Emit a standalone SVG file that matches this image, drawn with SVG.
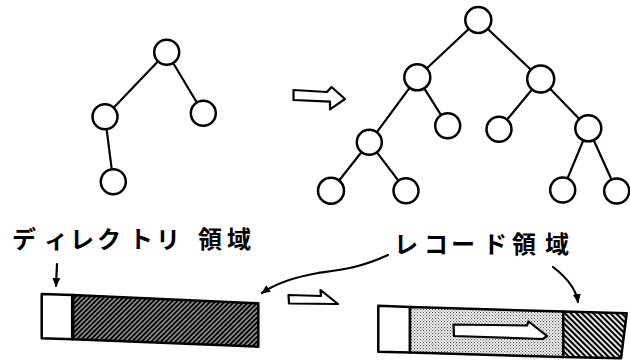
<svg xmlns="http://www.w3.org/2000/svg" width="630" height="363" viewBox="0 0 630 363">
<style>
.n{fill:#fff;stroke:#000;stroke-width:2.5}
.e{stroke:#000;stroke-width:2.2;fill:none;stroke-linecap:round}
.ha{fill:#fff;stroke:#000;stroke-width:2.2;stroke-linejoin:round}
.bar{stroke:#000;stroke-width:2.5;stroke-linejoin:round}
.t{font-family:"Noto Sans CJK JP","Noto Sans",sans-serif;font-size:24px;font-weight:700;fill:#000}
.pt{stroke:#000;stroke-width:2.2;fill:none;stroke-linecap:round}
</style>
<defs>
<pattern id="hatchL" patternUnits="userSpaceOnUse" width="3.4" height="3.4" patternTransform="rotate(45)">
<rect width="3.4" height="3.4" fill="#fff"/>
<line x1="1.7" y1="0" x2="1.7" y2="3.4" stroke="#000" stroke-width="2.5"/>
</pattern>
<pattern id="hatchR" patternUnits="userSpaceOnUse" width="4" height="4" patternTransform="rotate(-45)">
<rect width="4" height="4" fill="#fff"/>
<line x1="2" y1="0" x2="2" y2="4" stroke="#000" stroke-width="2.2"/>
</pattern>
<pattern id="dots" patternUnits="userSpaceOnUse" width="3" height="3">
<rect width="3" height="3" fill="#fff"/>
<rect x="0" y="0" width="1.2" height="1.2" fill="#555"/>
<rect x="1.5" y="1.5" width="1.2" height="1.2" fill="#777"/>
</pattern>
<marker id="ah" markerWidth="10" markerHeight="10" refX="8" refY="5" orient="auto" markerUnits="userSpaceOnUse">
<path d="M0,1 L9,5 L0,9 Z" fill="#000"/>
</marker>
</defs>
<rect width="630" height="363" fill="#fff"/>

<g id="connectors">
<line class="e" x1="166.7" y1="52.3" x2="105" y2="116.7"/>
<line class="e" x1="166.7" y1="52.3" x2="203.3" y2="113.3"/>
<line class="e" x1="105" y1="116.7" x2="113.3" y2="181.7"/>
<line class="e" x1="478.3" y1="20" x2="417.3" y2="77.3"/>
<line class="e" x1="478.3" y1="20" x2="540.7" y2="79"/>
<line class="e" x1="417.3" y1="77.3" x2="369.3" y2="142.3"/>
<line class="e" x1="417.3" y1="77.3" x2="447.7" y2="125.7"/>
<line class="e" x1="540.7" y1="79" x2="499" y2="129.3"/>
<line class="e" x1="540.7" y1="79" x2="588.3" y2="128.3"/>
<line class="e" x1="369.3" y1="142.3" x2="331" y2="190.7"/>
<line class="e" x1="369.3" y1="142.3" x2="406" y2="190.7"/>
<line class="e" x1="588.3" y1="128.3" x2="562.7" y2="190"/>
<line class="e" x1="588.3" y1="128.3" x2="616.7" y2="191"/>
<path class="pt" d="M57,264 L56,286" marker-end="url(#ah)"/>
<path class="pt" d="M388,255 C360,268 340,270 318,273 C295,277 275,284 262,293" marker-end="url(#ah)"/>
<path class="pt" d="M553,267 C566,277 576,288 578,302" marker-end="url(#ah)"/>
</g>

<g id="tree-left">
<circle class="n" cx="166.7" cy="52.3" r="12.5"/>
<circle class="n" cx="105" cy="116.7" r="12.5"/>
<circle class="n" cx="203.3" cy="113.3" r="12.5"/>
<circle class="n" cx="113.3" cy="181.7" r="12.5"/>
</g>

<g id="tree-right">
<circle class="n" cx="478.3" cy="20" r="13"/>
<circle class="n" cx="417.3" cy="77.3" r="13"/>
<circle class="n" cx="540.7" cy="79" r="13.5"/>
<circle class="n" cx="369.3" cy="142.3" r="12.5"/>
<circle class="n" cx="447.7" cy="125.7" r="12.5"/>
<circle class="n" cx="499" cy="129.3" r="12.5"/>
<circle class="n" cx="588.3" cy="128.3" r="13"/>
<circle class="n" cx="331" cy="190.7" r="13"/>
<circle class="n" cx="406" cy="190.7" r="12.5"/>
<circle class="n" cx="562.7" cy="190" r="12.5"/>
<circle class="n" cx="616.7" cy="191" r="12.5"/>
</g>

<g id="arrow-top">
<polygon class="ha" points="293.5,90 327,92 331.5,87 345,99 330,109.3 330,101.7 293.5,100"/>
</g>
<g id="arrow-bottom">
<polygon class="ha" points="288.5,295 321,296 320.5,290 338,304 289,303.5"/>
</g>

<g id="label-directory">
<text class="t" x="12 44 70 97 129 156 198 227" y="248">ディレクトリ領域</text>
</g>
<g id="label-record">
<text class="t" x="394 424 451 483 512 545" y="253">レコード領域</text>
</g>

<g id="bar-before">
<polygon class="bar" fill="#fff" points="41.7,294 72.7,295 72.7,339.3 41.7,338.3"/>
<polygon class="bar" fill="url(#hatchL)" points="72.7,295 258.3,303.3 258.3,346.7 72.7,339.3"/>
<line x1="72.7" y1="295" x2="72.7" y2="339.3" stroke="#000" stroke-width="3.5"/>
</g>

<g id="bar-after">
<polygon class="bar" fill="#fff" points="378.3,305.7 410,307 410,352.5 378.3,351.7"/>
<polygon class="bar" fill="url(#dots)" points="410,307 563.3,311.5 563.3,357 410,352.5"/>
<polygon class="bar" fill="url(#hatchR)" points="563.3,311.5 626.7,313.3 621,358.3 563.3,357"/>
<polygon class="ha" points="453.5,324.5 527,325.5 528.5,321.5 547,336 543,339 454,336"/>
</g>
</svg>
